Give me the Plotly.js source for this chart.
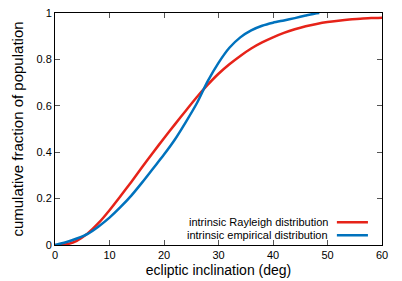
<!DOCTYPE html>
<html><head><meta charset="utf-8">
<script src="https://cdn.plot.ly/plotly-3.0.1.min.js"></script>
<style>html,body{margin:0;padding:0;background:#fff}#plot{width:402px;height:281px}</style>
</head><body><div id="plot"></div>
<script>
const rayleighX = [0,1.5,4,6,8,10,12,14,16,18,20,22,24,26,28,30,32,34,36,38,40,42,44,46,48,50,52,54,56,58,60];
const rayleighY = [0,0,0.018,0.05,0.095,0.15,0.21,0.272,0.336,0.399,0.46,0.52,0.579,0.637,0.69,0.738,0.779,0.815,0.847,0.873,0.895,0.914,0.93,0.943,0.953,0.961,0.967,0.972,0.975,0.978,0.98];
const empiricalX = [0,2,4,6,8,10,12,14,16,18,20,22,24,26,28,30,32,34,36,38,40,42,44,46,48,48.5];
const empiricalY = [0,0.012,0.028,0.048,0.08,0.118,0.163,0.213,0.27,0.33,0.39,0.455,0.53,0.61,0.705,0.785,0.85,0.895,0.925,0.945,0.958,0.968,0.978,0.989,0.999,1.0];
const seriesNames = ["intrinsic Rayleigh distribution","intrinsic empirical distribution"];
const xTicks = [0,10,20,30,40,50,60];
const yTicks = [0,0.2,0.4,0.6,0.8,1];
const yTickText = ["0","0.2","0.4","0.6","0.8","1"];

const red = "rgb(230,35,25)", blue = "rgb(0,114,189)";
const font = "Liberation Sans, Arial, sans-serif";
const traces = [
  {x: rayleighX, y: rayleighY, mode: "lines", line: {color: red, width: 2.5, shape: "spline", smoothing: 0.8}, name: seriesNames[0], showlegend: false},
  {x: empiricalX, y: empiricalY, mode: "lines", line: {color: blue, width: 2.5, shape: "spline", smoothing: 0.8}, name: seriesNames[1], showlegend: false}
];
const axisCommon = {showline: true, linecolor: "#000", linewidth: 1, mirror: "allticks", ticks: "inside", ticklen: 5, tickcolor: "#555", showgrid: false, zeroline: false, tickfont: {family: font, size: 11, color: "#000"}};
const layout = {
  width: 402, height: 281,
  margin: {l: 55, r: 20, t: 13, b: 36},
  paper_bgcolor: "#fff", plot_bgcolor: "#fff",
  xaxis: Object.assign({}, axisCommon, {range: [0, 60], tickvals: xTicks, title: {text: "ecliptic inclination (deg)", font: {family: font, size: 14, color: "#000"}, standoff: 4}}),
  yaxis: Object.assign({}, axisCommon, {range: [0, 1], tickvals: yTicks, ticktext: yTickText, title: {text: "cumulative fraction of population", font: {family: font, size: 15, color: "#000"}, standoff: 9}}),
  annotations: [
    {xref: "paper", yref: "paper", x: 0.84, y: 0.098, xanchor: "right", yanchor: "middle", text: seriesNames[0], showarrow: false, font: {family: font, size: 11, color: "#000"}},
    {xref: "paper", yref: "paper", x: 0.84, y: 0.042, xanchor: "right", yanchor: "middle", text: seriesNames[1], showarrow: false, font: {family: font, size: 11, color: "#000"}}
  ],
  shapes: [
    {type: "line", xref: "paper", yref: "paper", x0: 0.862, x1: 0.957, y0: 0.098, y1: 0.098, line: {color: red, width: 2.5}},
    {type: "line", xref: "paper", yref: "paper", x0: 0.862, x1: 0.957, y0: 0.042, y1: 0.042, line: {color: blue, width: 2.5}}
  ]
};
Plotly.newPlot("plot", traces, layout, {staticPlot: true});
</script></body></html>
